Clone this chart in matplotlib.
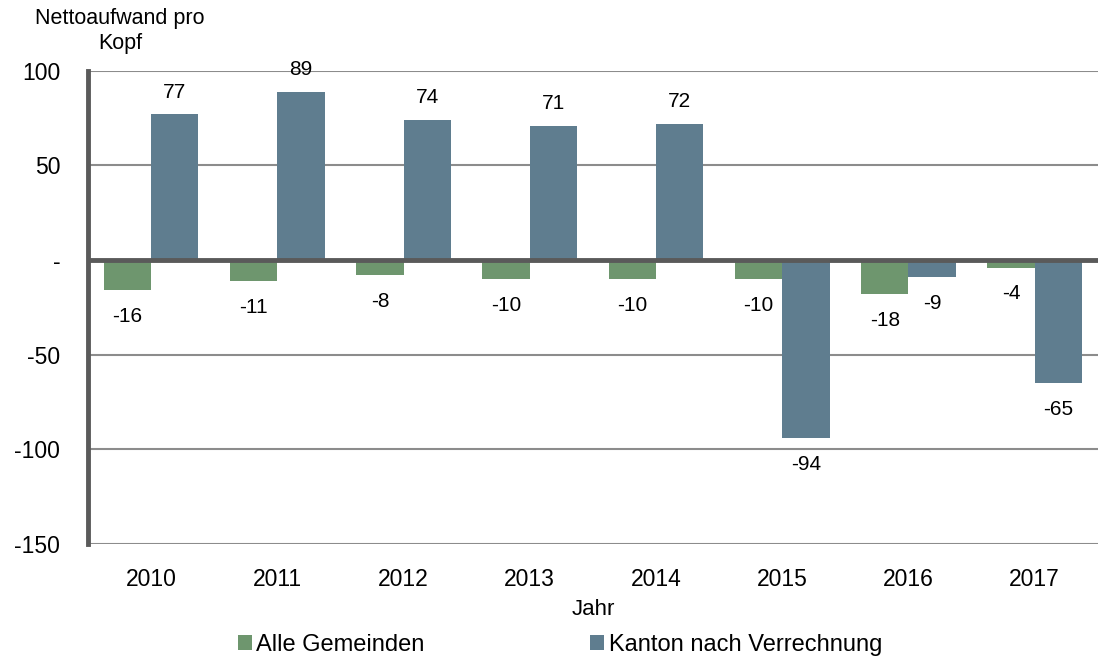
import matplotlib
matplotlib.use("Agg")
import matplotlib.pyplot as plt
import numpy as np

plt.rcParams['font.family'] = ['Liberation Sans', 'DejaVu Sans']

# data
years = ['2010', '2011', '2012', '2013', '2014', '2015', '2016', '2017']
gemeinden = [-16, -11, -8, -10, -10, -10, -18, -4]
kanton = [77, 89, 74, 71, 72, -94, -9, -65]
yticks = [100, 50, 0, -50, -100, -150]
ytick_labels = ['100', '50', '-', '-50', '-100', '-150']

green = '#6E966E'
blue = '#5F7D8F'

fig = plt.figure(figsize=(11, 6.61), dpi=100)
ax = fig.add_axes([0.08, 0.177, 0.918, 0.716])

x = np.arange(len(years))
w = 0.375
b1 = ax.bar(x - w / 2, gemeinden, w, color=green, label='Alle Gemeinden', zorder=2)
b2 = ax.bar(x + w / 2, kanton, w, color=blue, label='Kanton nach Verrechnung', zorder=2)

# value labels
for bars, vals in [(b1, gemeinden), (b2, kanton)]:
    for bar, v in zip(bars, vals):
        cx = bar.get_x() + bar.get_width() / 2
        off = 16 if v >= 0 else -19
        ax.annotate(str(v), (cx, v), xytext=(0, off), textcoords='offset points',
                    ha='center', va='center', fontsize=15, color='black')

ax.set_xlim(-0.5, len(years) - 0.5)
ax.set_ylim(-150, 100)
ax.set_yticks(yticks)
ax.set_yticklabels(ytick_labels)
ax.set_xticks(x)
ax.set_xticklabels(years)
ax.tick_params(axis='both', length=0, labelsize=16.5)
ax.tick_params(axis='x', pad=17)
ax.tick_params(axis='y', pad=20)

for yv in [100, 50, -50, -100, -150]:
    ax.axhline(yv, color='#8C8C8C', lw=1.5, zorder=1)
ax.axhline(0, color='#5A5A5A', lw=3.5, zorder=3)

for s in ['top', 'right', 'bottom']:
    ax.spines[s].set_visible(False)
ax.spines['left'].set_color('#5A5A5A')
ax.spines['left'].set_linewidth(3.5)
ax.spines['left'].set_zorder(4)

ax.set_xlabel('Jahr', fontsize=16, labelpad=6)
fig.text(120 / 1100, 1 - 31 / 661, 'Nettoaufwand pro\nKopf', ha='center', va='center',
         multialignment='center', fontsize=15.5, linespacing=1.3)

fig.legend(loc='center', bbox_to_anchor=(560 / 1100, 1 - 645 / 661), ncol=2, frameon=False,
           fontsize=17, handlelength=0.6, handleheight=0.6, handletextpad=0.2,
           columnspacing=7.0)

fig.savefig('out.png', dpi=100)
